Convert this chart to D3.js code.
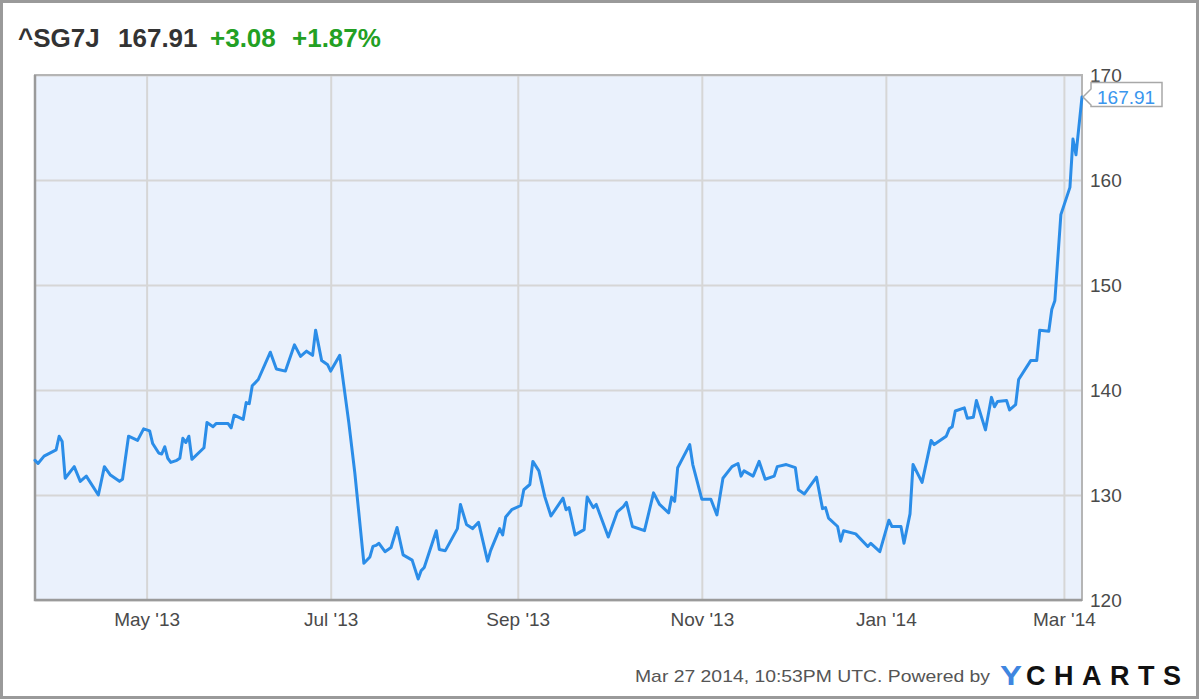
<!DOCTYPE html>
<html><head><meta charset="utf-8">
<script src="https://cdn.jsdelivr.net/npm/d3@7"></script>
<style>html,body{margin:0;padding:0;background:#fff;}svg{display:block;}</style>
</head><body>
<svg id="chart" width="1200" height="700"></svg>
<script>
const symbol = "^SG7J";
const lastValue = "167.91";
const change = "+3.08";
const changePct = "+1.87%";
const footerText = "Mar 27 2014, 10:53PM UTC.  Powered by";

const dates = [
"2013-03-25","2013-03-26","2013-03-28","2013-04-01","2013-04-02","2013-04-03","2013-04-04","2013-04-07","2013-04-09","2013-04-11",
"2013-04-15","2013-04-17","2013-04-19","2013-04-22","2013-04-23","2013-04-25","2013-04-28","2013-04-30","2013-05-02","2013-05-03",
"2013-05-05","2013-05-06","2013-05-07","2013-05-08","2013-05-09","2013-05-11","2013-05-12","2013-05-13","2013-05-14","2013-05-15",
"2013-05-16","2013-05-20","2013-05-21","2013-05-23","2013-05-24","2013-05-28","2013-05-29","2013-05-30","2013-06-02","2013-06-03",
"2013-06-04","2013-06-05","2013-06-07","2013-06-11","2013-06-13","2013-06-16","2013-06-19","2013-06-21","2013-06-23","2013-06-25",
"2013-06-26","2013-06-28","2013-06-30","2013-07-01","2013-07-04","2013-07-07","2013-07-09","2013-07-12","2013-07-14","2013-07-15",
"2013-07-16","2013-07-17","2013-07-19","2013-07-21","2013-07-23","2013-07-25","2013-07-28","2013-07-30","2013-07-31","2013-08-01",
"2013-08-05","2013-08-06","2013-08-08","2013-08-12","2013-08-13","2013-08-15","2013-08-17","2013-08-19","2013-08-22","2013-08-23",
"2013-08-26","2013-08-27","2013-08-28","2013-08-30","2013-09-02","2013-09-03","2013-09-05","2013-09-06","2013-09-08","2013-09-10",
"2013-09-12","2013-09-16","2013-09-17","2013-09-18","2013-09-20","2013-09-23","2013-09-24","2013-09-26","2013-09-27","2013-10-01",
"2013-10-04","2013-10-06","2013-10-07","2013-10-09","2013-10-13","2013-10-16","2013-10-18","2013-10-21","2013-10-22","2013-10-23",
"2013-10-24","2013-10-28","2013-10-29","2013-11-01","2013-11-04","2013-11-06","2013-11-08","2013-11-11","2013-11-13","2013-11-14",
"2013-11-15","2013-11-18","2013-11-20","2013-11-22","2013-11-25","2013-11-26","2013-11-29","2013-12-02","2013-12-03","2013-12-05",
"2013-12-09","2013-12-11","2013-12-12","2013-12-13","2013-12-16","2013-12-17","2013-12-18","2013-12-22","2013-12-26","2013-12-27",
"2013-12-30","2014-01-02","2014-01-03","2014-01-06","2014-01-07","2014-01-09","2014-01-10","2014-01-13","2014-01-16","2014-01-17",
"2014-01-21","2014-01-22","2014-01-23","2014-01-24","2014-01-27","2014-01-28","2014-01-30","2014-01-31","2014-02-03","2014-02-05",
"2014-02-06","2014-02-07","2014-02-10","2014-02-11","2014-02-13","2014-02-14","2014-02-18","2014-02-20","2014-02-21","2014-02-24",
"2014-02-25","2014-02-26","2014-02-28","2014-03-03","2014-03-04","2014-03-05","2014-03-07"
];
const values = [
133.3,133.0,133.7,134.3,135.6,135.1,131.6,132.7,131.3,131.8,
130.0,132.7,131.9,131.3,131.5,135.6,135.2,136.3,136.1,134.9,
134.0,133.9,134.6,133.5,133.1,133.3,133.5,135.4,135.0,135.6,
133.4,134.5,136.9,136.5,136.8,136.8,136.4,137.6,137.2,138.8,
138.7,140.4,141.0,143.6,142.0,141.8,144.3,143.2,143.7,143.3,
145.7,142.8,142.4,141.8,143.3,136.9,132.1,123.5,124.1,125.1,
125.2,125.4,124.6,125.0,126.9,124.3,123.8,122.0,122.8,123.1,
126.6,124.8,124.7,126.8,129.1,127.2,126.8,127.4,123.7,124.7,
126.8,126.2,127.9,128.6,129.0,130.5,131.0,133.2,132.3,129.8,
128.0,129.7,128.6,128.8,126.2,126.7,129.8,128.8,129.1,126.0,
128.4,128.9,129.3,127.0,126.6,130.2,129.1,128.3,129.8,129.4,
132.6,134.8,132.9,129.6,129.6,128.1,131.6,132.7,133.0,131.8,
132.3,131.8,133.2,131.5,131.8,132.7,132.9,132.6,130.5,130.1,
131.7,128.7,128.8,127.8,127.0,125.6,126.6,126.3,125.1,125.4,
124.6,127.6,127.0,127.0,125.4,128.2,132.9,131.2,135.2,134.8,
135.6,136.3,136.5,138.0,138.3,137.3,137.4,139.0,136.2,139.3,
138.4,138.9,139.0,138.1,138.6,141.0,142.8,142.8,145.7,145.6,
147.7,148.5,156.7,159.3,163.9,162.4,167.91
];
const yTicks = [120,130,140,150,160,170];
const xTicks = ["2013-05-01","2013-07-01","2013-09-01","2013-11-01","2014-01-01","2014-03-01"];
const xTickLabels = ["May '13","Jul '13","Sep '13","Nov '13","Jan '14","Mar '14"];
const domainStart = "2013-03-25", domainEnd = "2014-03-07";

const parse = d3.utcParse("%Y-%m-%d");
const data = dates.map((d,i)=>({date:parse(d), value:values[i]}));

const svg = d3.select("#chart");
const L = 35, R = 1082, T = 75, B = 600;
const font = "'Liberation Sans', Arial, Helvetica, sans-serif";

// outer frame
svg.append("rect").attr("x",1.5).attr("y",1.5).attr("width",1196).attr("height",696)
  .attr("fill","#fff").attr("stroke","#9a9a9a").attr("stroke-width",3);

const x = d3.scaleUtc().domain([parse(domainStart), parse(domainEnd)]).range([L, R]);
const y = d3.scaleLinear().domain([120,170]).range([B, T]);

// plot background
svg.append("rect").attr("x",L).attr("y",T).attr("width",R-L).attr("height",B-T).attr("fill","#eaf1fc");

// grid
const gx = svg.append("g").attr("transform",`translate(0,${B})`)
  .call(d3.axisBottom(x).tickValues(xTicks.map(parse)).tickSize(-(B-T)).tickFormat(""));
gx.select(".domain").remove();
gx.selectAll("line").attr("stroke","#d6d6d6").attr("stroke-width",2);
const gy = svg.append("g").attr("transform",`translate(${L},0)`)
  .call(d3.axisRight(y).tickValues(yTicks).tickSize(R-L).tickFormat(""));
gy.select(".domain").remove();
gy.selectAll("line").attr("stroke","#d6d6d6").attr("stroke-width",2);

// plot border
svg.append("rect").attr("x",L).attr("y",T).attr("width",R-L).attr("height",B-T)
  .attr("fill","none").attr("stroke","#b5b5b5").attr("stroke-width",2);
svg.append("path").attr("d",`M${L},${T}V${B}H${R}`).attr("fill","none").attr("stroke","#9a9a9a").attr("stroke-width",2.5);

// x labels
const ax = svg.append("g").attr("transform",`translate(0,${B})`)
  .call(d3.axisBottom(x).tickValues(xTicks.map(parse)).tickSize(0).tickPadding(0)
    .tickFormat((d,i)=>xTickLabels[i]));
ax.select(".domain").remove();
ax.selectAll("text").attr("font-family",font).attr("font-size",19).attr("fill","#4a4a4a")
  .attr("dy",null).attr("y",26);

// y labels
const ay = svg.append("g").attr("transform",`translate(${R},0)`)
  .call(d3.axisRight(y).tickValues(yTicks).tickSize(0).tickPadding(8));
ay.select(".domain").remove();
ay.selectAll("text").attr("font-family",font).attr("font-size",19).attr("fill","#4a4a4a");

// line
svg.append("path").datum(data)
  .attr("d", d3.line().x(d=>x(d.date)).y(d=>y(d.value)))
  .attr("fill","none").attr("stroke","#2b8de8").attr("stroke-width",3)
  .attr("stroke-linejoin","round").attr("stroke-linecap","round");

// last value tag
const last = data[data.length-1];
const ly = y(last.value), lx = x(last.date);
svg.append("path")
  .attr("d",`M${lx+1},${ly} L${lx+9},${ly-8} V${ly-14.5} H${lx+80} V${ly+9.5} H${lx+9} V${ly+8} Z`)
  .attr("fill","#fff").attr("stroke","#a8a8a8").attr("stroke-width",1.5);
svg.append("text").attr("x",lx+15).attr("y",ly+7).attr("font-family",font).attr("font-size",19)
  .attr("fill","#3a96ee").text(lastValue);

// title
const title = svg.append("text").attr("y",47).attr("font-family",font).attr("font-size",26).attr("font-weight","bold");
title.append("tspan").attr("x",18).attr("fill","#333").text(symbol);
title.append("tspan").attr("x",118).attr("fill","#333").text(lastValue);
title.append("tspan").attr("x",210).attr("fill","#23a023").text(change);
title.append("tspan").attr("x",292).attr("fill","#23a023").text(changePct);

// footer
svg.append("text").attr("x",635).attr("y",682).attr("font-family",font).attr("font-size",17)
  .attr("fill","#555").attr("textLength",355).attr("lengthAdjust","spacingAndGlyphs").text(footerText);
svg.append("text").attr("x",1000).attr("y",685).attr("font-family",font).attr("font-size",27)
  .attr("font-weight","bold").attr("fill","#3f86e0").attr("textLength",22).attr("lengthAdjust","spacingAndGlyphs").text("Y");
svg.append("text").attr("x",1026).attr("y",685).attr("font-family",font).attr("font-size",27)
  .attr("font-weight","bold").attr("fill","#111").attr("textLength",155).attr("lengthAdjust","spacing").text("CHARTS");
</script>
</body></html>
